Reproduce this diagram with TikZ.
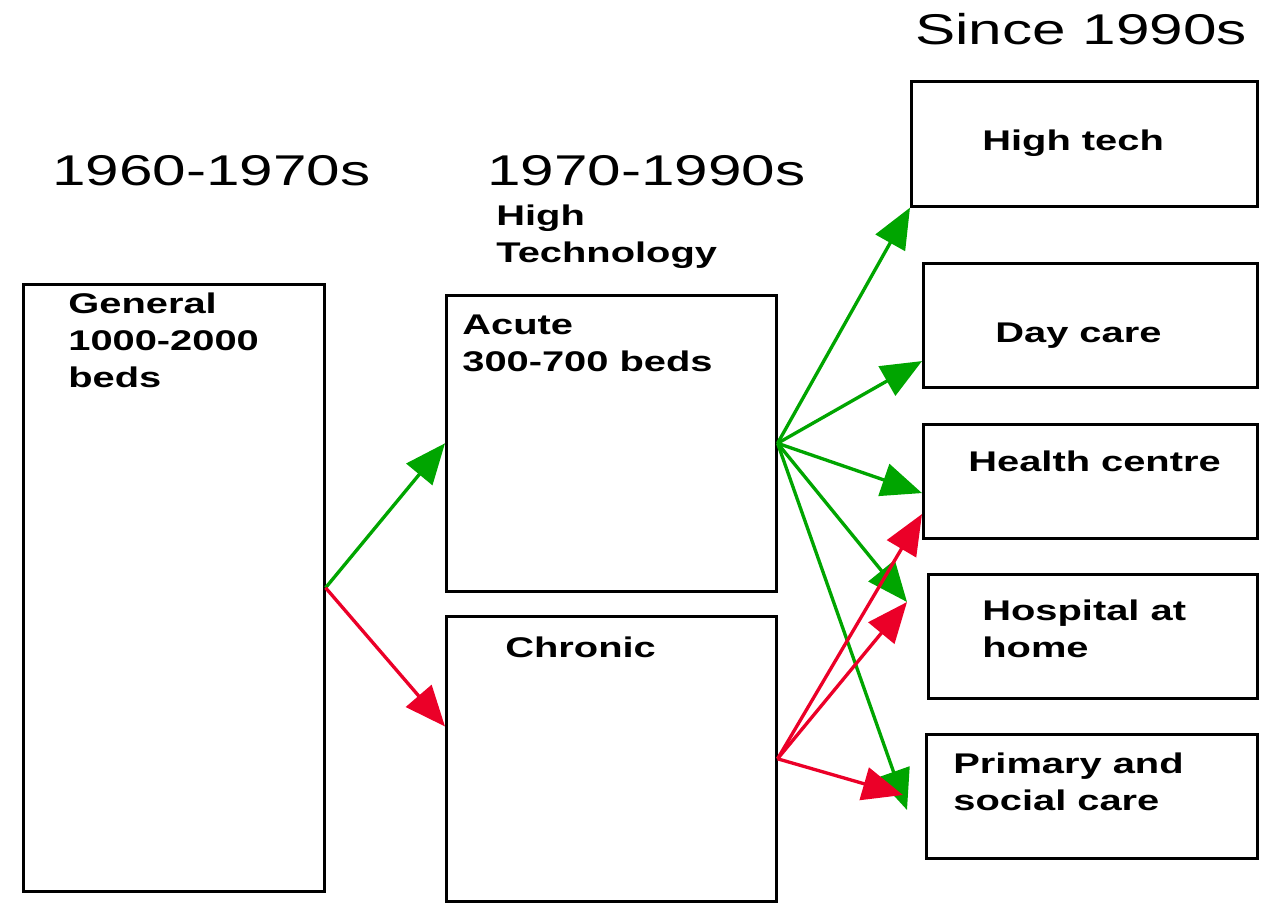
\documentclass[tikz,border=0pt]{standalone}
\usepackage{fontspec}
\setmainfont{Liberation Sans}[FakeStretch=1.4]
\usetikzlibrary{arrows.meta}
\newcommand{\era}{\fontsize{24.5}{29}\selectfont}
\newcommand{\lbl}{\fontsize{16.2}{21}\selectfont\bfseries}
\definecolor{arrgreen}{RGB}{0,165,0}
\definecolor{arrred}{RGB}{235,0,40}

\begin{document}
\begin{tikzpicture}[x=0.02cm, y=-0.02cm,
    box/.style={draw, line width=1.5pt, anchor=north west, inner sep=0pt},
    txt/.style={anchor=north west, inner sep=0pt, align=left, font=\lbl},
    head/.style={anchor=base west, inner sep=0pt, font=\era},
    grn/.style={draw=arrgreen, line width=1.9pt, -{Triangle[length=23pt,width=19pt]}},
    rd/.style={grn, draw=arrred, fill=arrred}]

    \useasboundingbox (0,0) rectangle (1268,909);

    % periods
    \node[head] (p1) at (52,185) {1960-1970s};
    \node[head] (p2) at (487,185) {1970-1990s};
    \node[head] (p3) at (915,45) {Since 1990s};
    \node[txt] (hightechno) at (496,205) {High\\Technology};

    % boxes
    \node[box, minimum width=6.02cm, minimum height=12.14cm] (general) at (22,283) {};
    \node[box, minimum width=6.6cm, minimum height=5.92cm] (acute) at (445,294) {};
    \node[box, minimum width=6.6cm, minimum height=5.7cm] (chronic) at (445,615) {};
    \node[box, minimum width=6.92cm, minimum height=2.5cm] (hightech) at (910,80) {};
    \node[box, minimum width=6.68cm, minimum height=2.48cm] (daycare) at (922,262) {};
    \node[box, minimum width=6.68cm, minimum height=2.28cm] (health) at (922,423) {};
    \node[box, minimum width=6.58cm, minimum height=2.48cm] (hospital) at (927,573) {};
    \node[box, minimum width=6.62cm, minimum height=2.48cm] (primary) at (925,733) {};

    \node[txt] (generaltxt) at (68,293) {General\\1000-2000\\beds};
    \node[txt] (acutetxt) at (462,315) {Acute\\300-700 beds};
    \node[txt] (chronictxt) at (505,637) {Chronic};
    \node[txt] (hightechtxt) at (982,130) {High tech};
    \node[txt] (daycaretxt) at (995,323) {Day care};
    \node[txt] (healthtxt) at (968,451) {Health centre};
    \node[txt] (hospitaltxt) at (982,600) {Hospital at\\home};
    \node[txt] (primarytxt) at (953,753) {Primary and\\social care};

    \coordinate (hospin) at (907,602);
    \coordinate (primg) at (907,810);
    \coordinate (primr) at (903,795);

    \draw[grn] (general.east) to (acute.west);
    \draw[rd] (general.east) to (chronic.169);

    \draw[grn] (acute.east) to (hightech.south west);
    \draw[grn] (acute.east) to (daycare.192);
    \draw[grn] (acute.east) to (health.184);
    \draw[grn] (acute.east) to (hospin);
    \draw[grn] (acute.east) to (primg);

    \draw[rd] (chronic.east) to (health.191);
    \draw[rd] (chronic.east) to (hospin);
    \draw[rd] (chronic.east) to (primr);

\end{tikzpicture}
\end{document}
